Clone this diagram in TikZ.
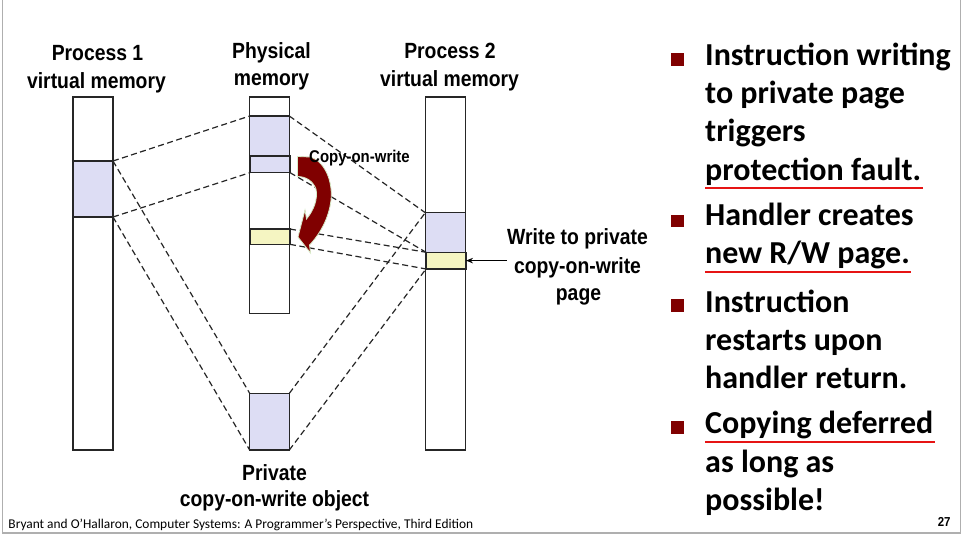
\documentclass[tikz,border=0pt]{standalone}
\usepackage{fontspec}
\usetikzlibrary{arrows.meta}
\newfontfamily\narfont[FakeStretch=0.88]{Liberation Sans}
\newfontfamily\calfont{Carlito}
\definecolor{blueF}{RGB}{221,221,244}
\definecolor{yelF}{RGB}{245,245,194}
\definecolor{arrowred}{RGB}{128,0,0}
\definecolor{bulletred}{RGB}{128,0,0}
\definecolor{ulred}{RGB}{230,20,20}
\definecolor{framegrey}{RGB}{175,175,175}
\definecolor{glow}{RGB}{215,235,200}
\tikzset{
  col/.style={draw=black!85, line width=1.3pt, fill=white, inner sep=0pt, outer sep=0pt},
  bblk/.style={col, fill=blueF},
  yblk/.style={col, fill=yelF},
  dline/.style={draw=black!85, line width=1.2pt, dash pattern=on 6pt off 3.5pt},
  title/.style={font=\narfont\bfseries\fontsize{22}{26}\selectfont, anchor=base, inner sep=0pt},
  small/.style={font=\narfont\bfseries\fontsize{17}{20}\selectfont, anchor=base, inner sep=0pt},
  btext/.style={font=\calfont\bfseries\fontsize{32}{38}\selectfont, anchor=base west, inner sep=0pt},
  bsq/.style={fill=bulletred, minimum size=12.5pt, inner sep=0pt, anchor=south west},
  uline/.style={draw=ulred, line width=2pt},
}
\begin{document}
\begin{tikzpicture}[x=1pt, y=-1pt]
\useasboundingbox (0,0) rectangle (963,536);
\fill[white] (0,0) rectangle (963,536);
% slide frame
\draw[framegrey, line width=1.2pt] (2.5,0) -- (2.5,533) -- (960.5,533) -- (960.5,0);

% columns
\node[col, minimum width=40pt, minimum height=353pt] (p1) at (93,273.5) {};
\node[col, minimum width=39.6pt, minimum height=216.3pt] (ph) at (269.5,205) {};
\node[col, minimum width=40.4pt, minimum height=353pt] (p2) at (445.5,273.5) {};

% blocks
\node[bblk, minimum width=40pt, minimum height=56pt] (p1b) at (93,189) {};
\node[bblk, minimum width=39.6pt, minimum height=40pt] (phb1) at (269.5,136) {};
\node[bblk, minimum width=40pt, minimum height=16.7pt] (phb2) at (270,164.3) {};
\node[yblk, minimum width=40pt, minimum height=15.3pt] (phy) at (270,236.7) {};
\node[bblk, minimum width=40.4pt, minimum height=39.6pt] (p2b) at (445.5,232.5) {};
\node[yblk, minimum width=40pt, minimum height=16.7pt] (p2y) at (446,260.6) {};
\node[bblk, minimum width=39.6pt, minimum height=56.7pt] (pr) at (269.5,421.7) {};

% dashed mappings
\draw[dline] (p1b.north east) -- (phb1.north west);
\draw[dline] (p1b.south east) -- (phb2.south west);
\draw[dline] (p1b.north east) -- (pr.north west);
\draw[dline] (p1b.south east) -- (pr.south west);
\draw[dline] (phb1.north east) -- (p2b.north west);
\draw[dline] (phb2.south east) -- (p2y.north west);
\draw[dline] (phy.north east) -- (p2y.north west);
\draw[dline] (phy.south east) -- (p2y.south west);
\draw[dline] (pr.north east) -- (p2b.north west);
\draw[dline] (pr.south east) -- (p2y.south west);

% copy-on-write curved arrow
\filldraw[fill=arrowred, draw=glow, line width=0.8pt]
  (297.5,156.5) -- (310,157)
  .. controls (325,161) and (333,182) .. (331,200)
  .. controls (329,218) and (320,234) .. (309.5,245)
  -- (310.5,253) -- (298,237) -- (305,210) -- (306.5,219)
  .. controls (314,210) and (318,199) .. (316,189)
  .. controls (313,181) and (306,176.5) .. (297.5,176.5) -- cycle;
\node[small] (cow) at (359.5,162) {Copy-on-write};

% titles
\node[title] (t1a) at (97.5,60.5) {Process 1};
\node[title] (t1b) at (96.5,88.3) {virtual memory};
\node[title] (t2a) at (271.5,58.3) {Physical};
\node[title] (t2b) at (271.5,85) {memory};
\node[title] (t3a) at (450,58.5) {Process 2};
\node[title] (t3b) at (449.5,86.3) {virtual memory};
\node[title] (t4a) at (274.5,480) {Private};
\node[title] (t4b) at (274.5,506.7) {copy-on-write object};

% write label and arrow
\node[title] (w1) at (577.5,244.3) {Write to private};
\node[title] (w2) at (577.5,273.3) {copy-on-write};
\node[title] (w3) at (578.5,300) {page};
\coordinate (wpt) at (506.5,260.6);
\draw[black, line width=1pt, -{Stealth[length=7pt, width=5.5pt]}] (wpt) -- (p2y.east);

% bullets
\node[bsq] (s1) at (671,65.7) {};
\node[bsq] (s2) at (671,227.5) {};
\node[bsq] (s3) at (671,311.7) {};
\node[bsq] (s4) at (671,434) {};

\node[btext] (b1a) at (705,65.7) {Instruction writing};
\node[btext] (b1b) at (705,103.8) {to private page};
\node[btext] (b1c) at (705,141.9) {triggers};
\node[btext] (b1d) at (705,180) {protection fault.};
\node[btext] (b2a) at (705,225) {Handler creates};
\node[btext] (b2b) at (705,263.3) {new R/W page.};
\node[btext] (b3a) at (705,312.3) {Instruction};
\node[btext] (b3b) at (705,350.5) {restarts upon};
\node[btext] (b3c) at (705,388.5) {handler return.};
\node[btext] (b4a) at (705,433.3) {Copying deferred};
\node[btext] (b4b) at (705,472) {as long as};
\node[btext] (b4c) at (705,510.5) {possible!};

% red underlines
\draw[uline] (705,188) -- (922.5,188);
\draw[uline] (705,272) -- (911,272);
\draw[uline] (705,441.5) -- (935,441.5);

% footer
\node[font=\calfont\fontsize{13.4}{16}\selectfont, anchor=base west, inner sep=0pt] (foot) at (8.3,528.3) {Bryant and O’Hallaron, Computer Systems: A Programmer’s Perspective, Third Edition};
\node[font=\narfont\bfseries\fontsize{13}{15}\selectfont, anchor=base east, inner sep=0pt] (pg) at (950.7,526.7) {27};
\end{tikzpicture}
\end{document}
